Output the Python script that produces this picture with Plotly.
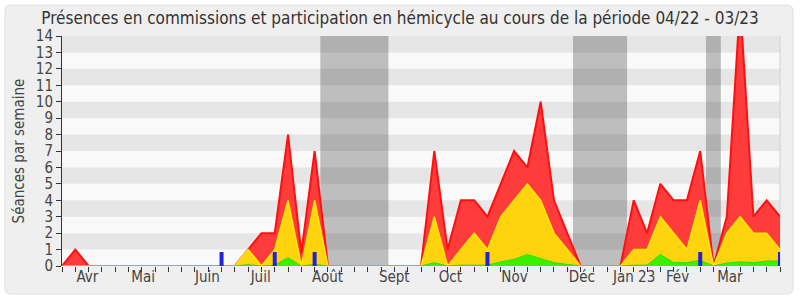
import plotly.graph_objects as go

# ---- data (weekly, index 0 = first week of the period) ----
weeks = list(range(55))
red_total = [0, 1, 0, 0, 0, 0, 0, 0, 0, 0, 0, 0, 0, 0, 1, 2, 2, 8, 0.8, 7,
             0, 0, 0, 0, 0, 0, 0, 0, 7, 1, 4, 4, 3, 5, 7, 6, 10, 4, 2, 0,
             0, 0, 0, 4, 2, 5, 4, 4, 7, 0, 3, 16, 3, 4, 3]
yellow_total = [0, 0, 0, 0, 0, 0, 0, 0, 0, 0, 0, 0, 0, 0, 1, 0, 1, 4, 0, 4,
                0, 0, 0, 0, 0, 0, 0, 0, 3, 0, 1, 2, 1, 3, 4, 5, 4, 2, 1, 0,
                0, 0, 0, 1, 1, 3, 2, 1, 4, 0, 2, 3, 2, 2, 1]
green_total = [0, 0, 0, 0, 0, 0, 0, 0, 0, 0, 0, 0, 0, 0, 0.08, 0, 0.05, 0.5, 0, 0.1,
               0, 0, 0, 0, 0, 0, 0, 0, 0.2, 0, 0.05, 0.05, 0.05, 0.25, 0.4, 0.7, 0.45, 0.2, 0.1, 0,
               0, 0, 0, 0.05, 0.05, 0.7, 0.2, 0.2, 0.35, 0, 0.18, 0.25, 0.2, 0.3, 0.3]
blue_weeks = [12, 16, 19, 32, 48, 54]
blue_values = [0.85, 0.85, 0.85, 0.85, 0.85, 0.85]

month_labels = ["Avr", "Mai", "Juin", "Juil", "Août", "Sept", "Oct", "Nov", "Déc", "Jan 23", "Fév", "Mar"]
month_positions = [1.91, 6.1, 10.93, 14.94, 19.97, 24.99, 29.21, 34.03, 39.1, 43.03, 46.29, 50.23]

holiday_starts = [19.43, 38.43, 48.43]
holiday_ends = [24.55, 42.5, 49.55]

y_ticks = list(range(0, 15))

# ---- geometry ----
W, H = 800, 300
ML, MR, MT, MB = 62, 20, 36, 34
PW, PH = W - ML - MR, H - MT - MB

def px_x(px):
    return (px - ML) / PW

def px_y(py):
    return (H - MB - py) / PH

FONT = "DejaVu Sans Condensed, DejaVu Sans, sans-serif"

fig = go.Figure()

fig.add_trace(go.Scatter(x=weeks, y=red_total, mode="lines", fill="tozeroy",
                         fillcolor="#ff3c3c", line=dict(color="#ff1010", width=2),
                         hoverinfo="skip", showlegend=False))
fig.add_trace(go.Scatter(x=weeks, y=yellow_total, mode="lines", fill="tozeroy",
                         fillcolor="#ffd30e", line=dict(color="#ffea00", width=1.5),
                         hoverinfo="skip", showlegend=False))
fig.add_trace(go.Scatter(x=weeks, y=green_total, mode="lines", fill="tozeroy",
                         fillcolor="#3cf000", line=dict(color="#22e000", width=1),
                         hoverinfo="skip", showlegend=False))
fig.add_trace(go.Scatter(x=blue_weeks, y=[0] * len(blue_weeks), mode="markers",
                         marker=dict(size=1, color="rgba(0,0,0,0)"),
                         error_y=dict(type="data", symmetric=False, array=blue_values,
                                      arrayminus=[0] * len(blue_values),
                                      color="#2222dd", thickness=4, width=0),
                         hoverinfo="skip", showlegend=False))

shapes = []
# outer rounded frame
x0, x1 = px_x(5), px_x(793)
y0, y1 = px_y(294), px_y(5)
rx, ry = 6 / PW, 6 / PH
path = (f"M {x0+rx},{y1} L {x1-rx},{y1} Q {x1},{y1} {x1},{y1-ry} "
        f"L {x1},{y0+ry} Q {x1},{y0} {x1-rx},{y0} L {x0+rx},{y0} "
        f"Q {x0},{y0} {x0},{y0+ry} L {x0},{y1-ry} Q {x0},{y1} {x0+rx},{y1} Z")
shapes.append(dict(type="path", path=path, xref="paper", yref="paper",
                   fillcolor="#efefef", line=dict(color="#dedede", width=1), layer="below"))
# plot background
shapes.append(dict(type="rect", xref="paper", yref="paper", x0=0, x1=1, y0=0, y1=1,
                   fillcolor="#f9f9f9", line=dict(width=0), layer="below"))
# horizontal bands
for k in range(7):
    shapes.append(dict(type="rect", xref="paper", yref="y", x0=0, x1=1,
                       y0=2 * k + 1, y1=2 * k + 2, fillcolor="#e6e6e6",
                       line=dict(width=0), layer="below"))
# holiday periods
for s, e in zip(holiday_starts, holiday_ends):
    shapes.append(dict(type="rect", xref="x", yref="paper", x0=s, x1=e, y0=0, y1=1,
                       fillcolor="rgba(0,0,0,0.237)", line=dict(width=0), layer="below"))
# right border line
shapes.append(dict(type="line", xref="paper", yref="paper", x0=1, x1=1, y0=0, y1=1,
                   line=dict(color="#d0d0d0", width=1), layer="below"))

fig.update_layout(
    width=W, height=H,
    margin=dict(l=ML, r=MR, t=MT, b=MB),
    paper_bgcolor="white",
    plot_bgcolor="rgba(0,0,0,0)",
    shapes=shapes,
    title=dict(text="Présences en commissions et participation en hémicycle au cours de la période 04/22 - 03/23",
               x=0.5, xanchor="center", y=1 - 18 / H, yanchor="middle",
               font=dict(family=FONT, size=17, color="#333333")),
    font=dict(family=FONT, color="#444444"),
    xaxis=dict(range=[0, 54], showgrid=False, zeroline=False,
               showline=False,
               tickmode="array", tickvals=month_positions, ticktext=month_labels,
               ticks="", tickfont=dict(size=15, color="#444444"),
               minor=dict(tickmode="array", tickvals=weeks, ticks="outside",
                          ticklen=5, tickcolor="#333333", tickwidth=1),
               mirror="ticks"),
    yaxis=dict(range=[0, 14], showgrid=False, zeroline=False,
               tickmode="array", tickvals=y_ticks,
               ticks="outside", ticklen=5, tickcolor="#333333",
               showline=True, linecolor="#333333", linewidth=1,
               tickfont=dict(size=15, color="#444444"),
               title=dict(text="Séances par semaine", font=dict(size=15, color="#444444"), standoff=7)),
)

fig.write_html("out.html")
